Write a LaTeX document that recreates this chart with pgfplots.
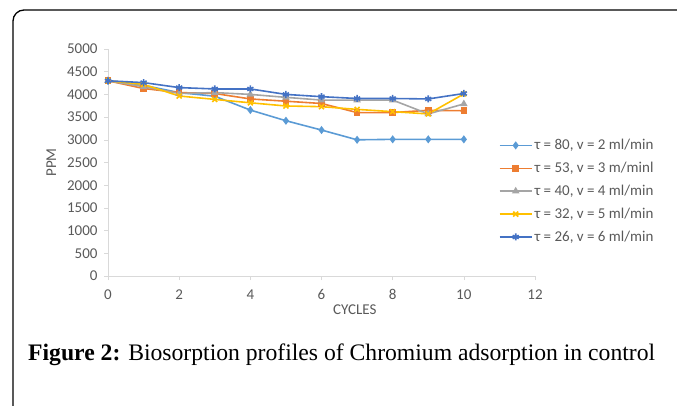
\documentclass[border=0pt]{standalone}
\usepackage{pgfplots}
\pgfplotsset{compat=1.18}
\usepackage{fontspec}
\setmainfont{Liberation Serif}
\newfontfamily\calibri{Carlito}
\definecolor{cA}{HTML}{5B9BD5}
\definecolor{cB}{HTML}{ED7D31}
\definecolor{cC}{HTML}{A5A5A5}
\definecolor{cD}{HTML}{FFC000}
\definecolor{cE}{HTML}{4472C4}
\definecolor{axgray}{HTML}{D9D9D9}
\definecolor{txt}{HTML}{595959}
\begin{document}
\begin{tikzpicture}[x=1bp,y=1bp]
\useasboundingbox (0,0) rectangle (677,405);
\draw[line width=1.3bp, rounded corners=11bp] (13,-2) -- (13,395) -- (680,395);
\begin{axis}[
  at={(108bp,129bp)}, anchor=origin,
  scale only axis, width=427bp, height=227bp,
  xmin=0, xmax=12, ymin=0, ymax=5000,
  xtick={0,2,...,12}, ytick={0,500,...,5000},
  axis lines=left, axis line style={axgray, -},
  tick style={axgray, line width=0.6bp}, tick align=outside, major tick length=4bp,
  scaled y ticks=false,
  /pgf/number format/assume math mode=true,
  /pgf/number format/set thousands separator={},
  ticklabel style={font=\calibri\fontsize{15bp}{17bp}\selectfont, text=txt},
  xticklabel style={yshift=-6bp},
  yticklabel style={xshift=-3bp},
  xlabel={CYCLES}, ylabel={PPM},
  label style={font=\calibri\fontsize{15bp}{17bp}\selectfont, text=txt},
  xlabel style={at={(axis description cs:0.578,0)}, anchor=north, yshift=-25bp},
  ylabel style={yshift=4bp},
  legend style={at={(rel axis cs:0.915,0.62)}, anchor=north west, draw=none, fill=none,
    font=\calibri\fontsize{15bp}{17bp}\selectfont, text=txt,
    row sep=7bp, inner xsep=0pt, cells={anchor=west}},
  legend image code/.code={\draw[mark repeat=2,mark phase=2,#1] plot coordinates {(0bp,0bp)(16bp,0bp)(32bp,0bp)};},
  every axis plot/.append style={line width=1.6bp, mark size=2.8bp, mark options={solid}},
  clip=false,
]
\addplot[cA, mark=diamond*] coordinates {(0,4300)(1,4200)(2,4040)(3,3960)(4,3655)(5,3420)(6,3215)(7,3000)(8,3010)(9,3010)(10,3010)};
\addlegendentry{τ = 80, v = 2 ml/min}
\addplot[cB, mark=square*, mark size=2.5bp] coordinates {(0,4300)(1,4130)(2,4040)(3,4020)(4,3900)(5,3850)(6,3800)(7,3600)(8,3600)(9,3650)(10,3640)};
\addlegendentry{τ = 53, v = 3 m/minl}
\addplot[cC, mark=triangle*] coordinates {(0,4300)(1,4170)(2,4020)(3,4040)(4,4000)(5,3935)(6,3875)(7,3875)(8,3875)(9,3570)(10,3790)};
\addlegendentry{τ = 40, v = 4 ml/min}
\addplot[cD, mark=x, mark size=3.5bp] coordinates {(0,4300)(1,4220)(2,3965)(3,3890)(4,3815)(5,3745)(6,3730)(7,3670)(8,3620)(9,3570)(10,4010)};
\addlegendentry{τ = 32, v = 5 ml/min}
\addplot[cE, mark=asterisk, mark size=3.5bp] coordinates {(0,4300)(1,4260)(2,4150)(3,4120)(4,4120)(5,4000)(6,3950)(7,3910)(8,3910)(9,3900)(10,4020)};
\addlegendentry{τ = 26, v = 6 ml/min}
\end{axis}
\node[anchor=west, inner sep=0pt] at (28,50) {\resizebox{627bp}{!}{\textbf{Figure 2:} Biosorption profiles of Chromium adsorption in control}};
\end{tikzpicture}
\end{document}
